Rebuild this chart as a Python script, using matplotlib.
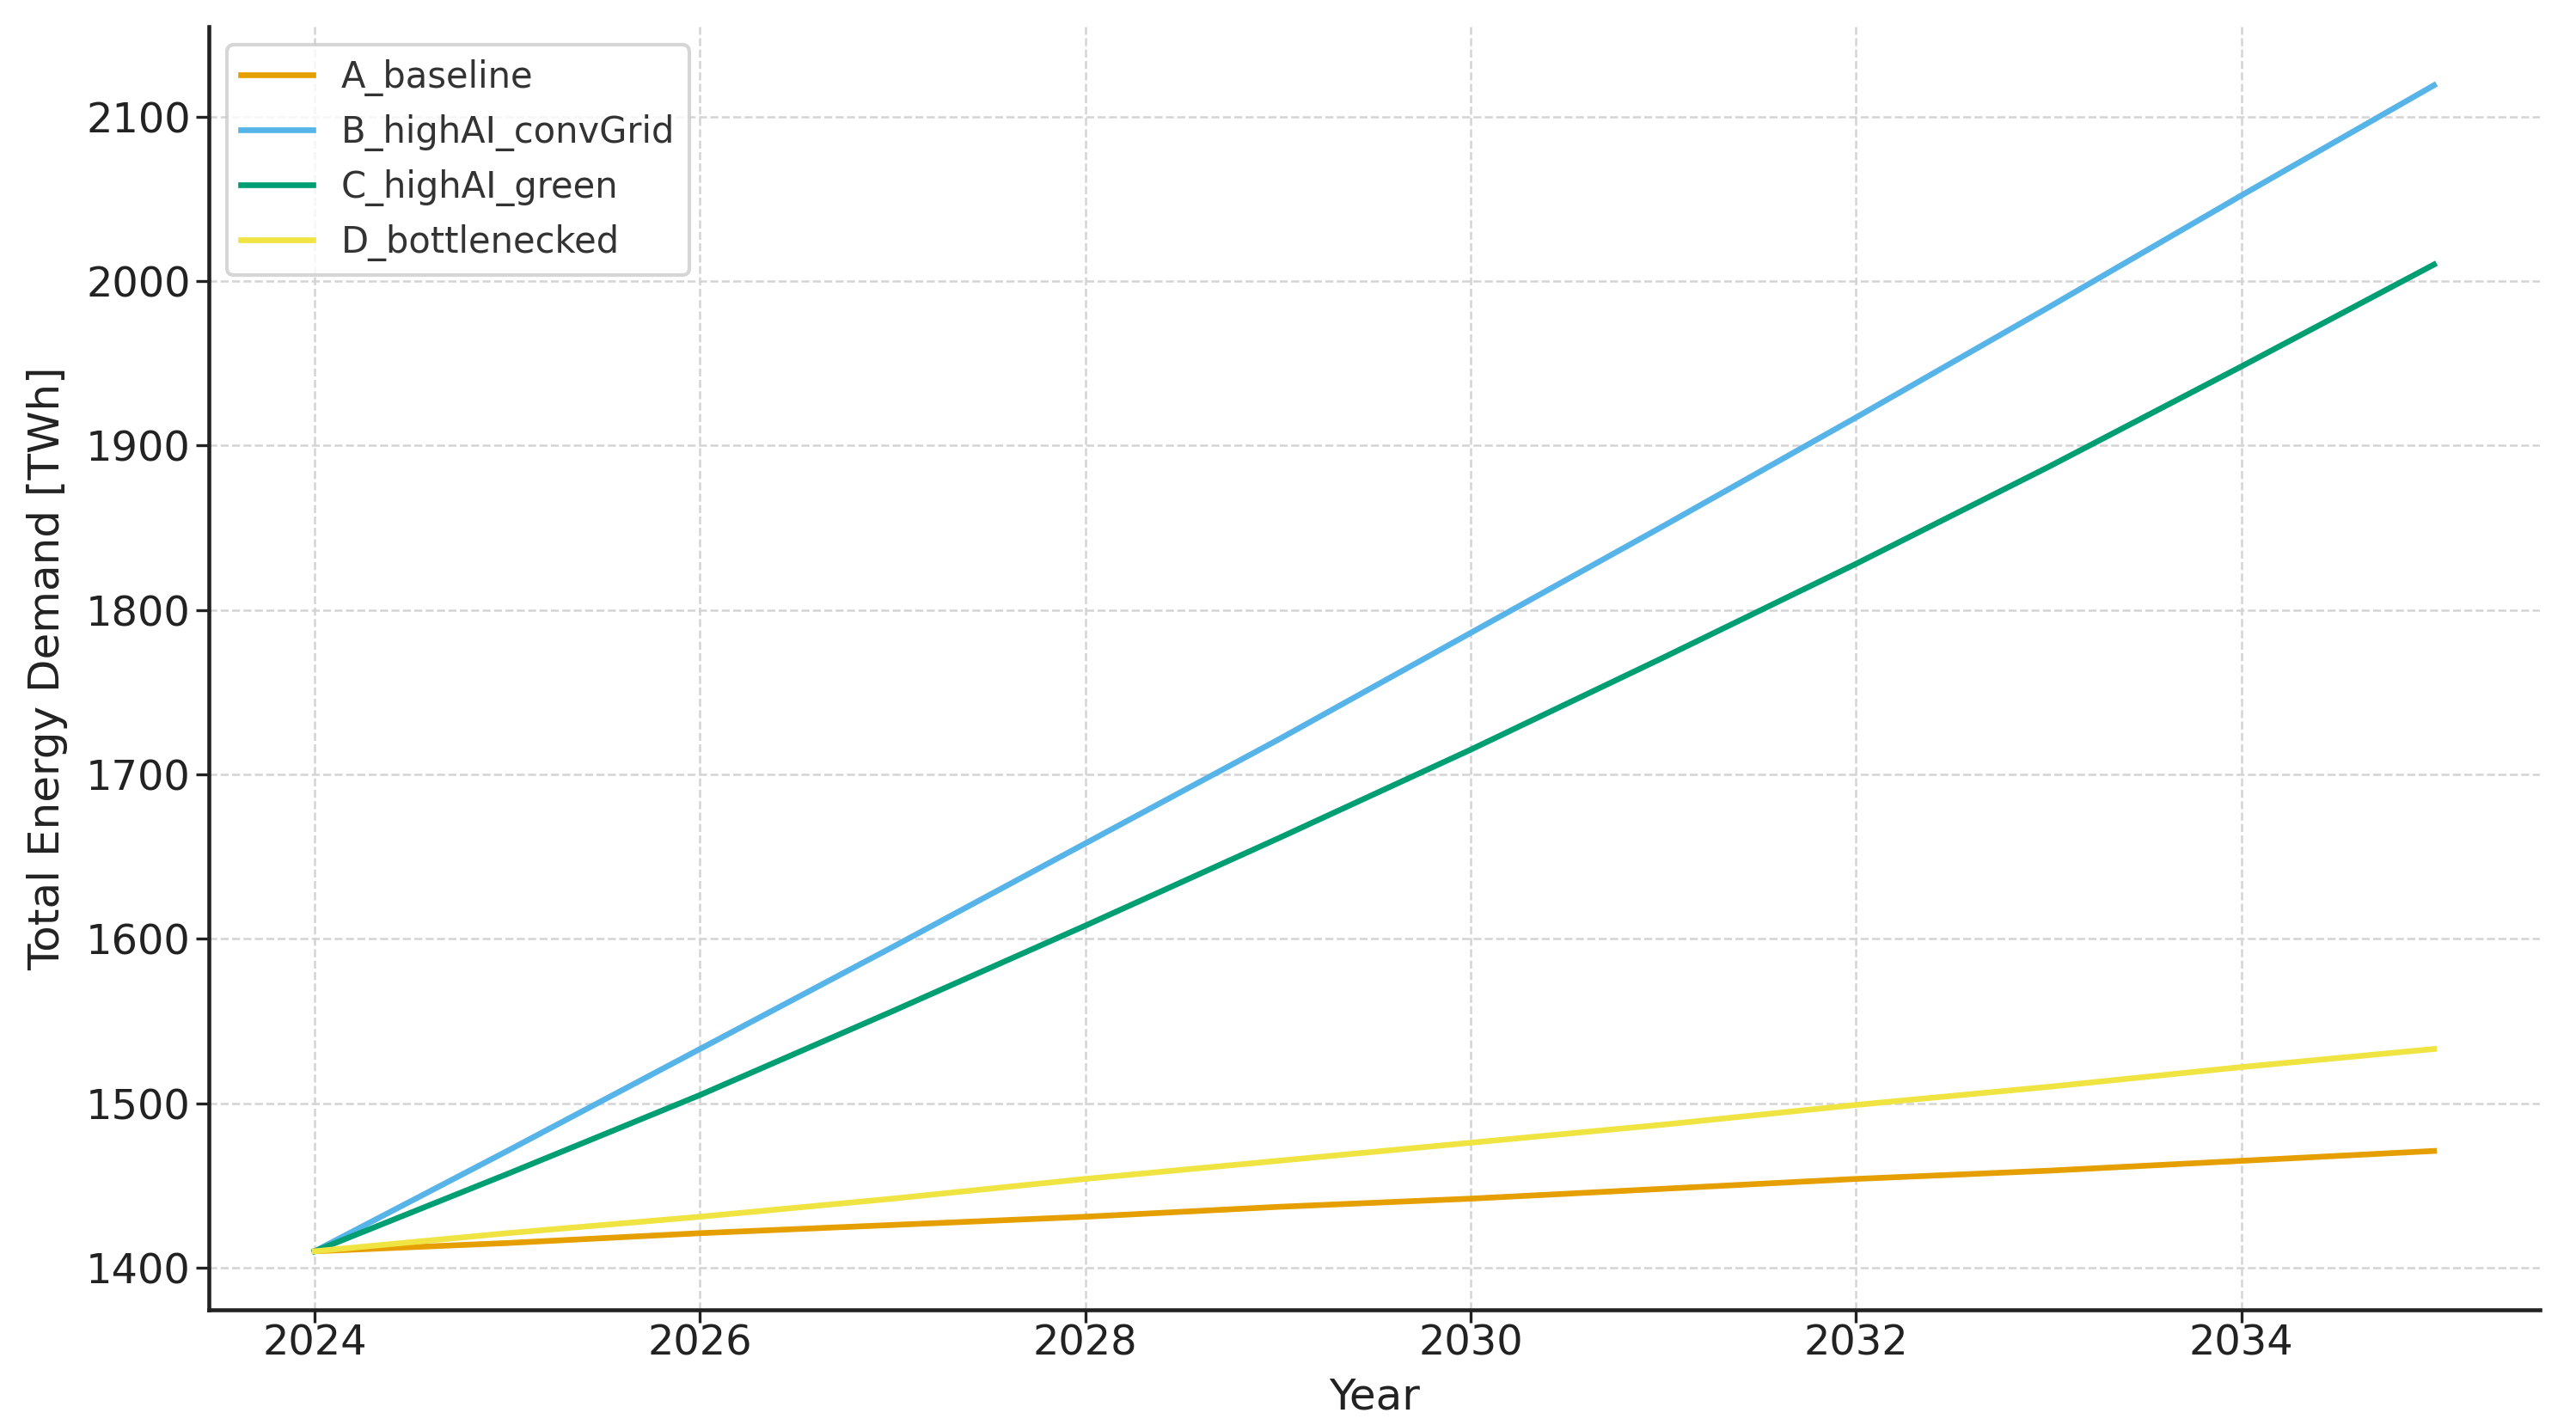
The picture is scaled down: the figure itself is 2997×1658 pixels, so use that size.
import matplotlib
matplotlib.use('Agg')
import matplotlib.pyplot as plt

# scenario data
years = [2024, 2025, 2026, 2027, 2028, 2029, 2030, 2031, 2032, 2033, 2034, 2035]
a_baseline = [1410, 1415, 1421, 1426, 1431, 1437, 1442, 1448, 1454, 1459, 1465, 1471]
b_highai_convgrid = [1410, 1471, 1533, 1595, 1658, 1721, 1786, 1851, 1917, 1984, 2052, 2119]
c_highai_green = [1410, 1457, 1505, 1556, 1608, 1661, 1715, 1771, 1828, 1887, 1948, 2010]
d_bottlenecked = [1410, 1421, 1431, 1442, 1454, 1465, 1476, 1487, 1499, 1510, 1522, 1533]

names = ['A_baseline', 'B_highAI_convGrid', 'C_highAI_green', 'D_bottlenecked']
colors = ['#E69F00', '#56B4E9', '#009E73', '#F0E442']

plt.rcParams['font.family'] = ['DejaVu Sans']

fig = plt.figure(figsize=(9.99, 5.527), dpi=300)
ax = fig.add_subplot(111)
fig.subplots_adjust(left=0.081, right=0.986, bottom=0.081, top=0.981)

for series, name, c in zip([a_baseline, b_highai_convgrid, c_highai_green, d_bottlenecked], names, colors):
    ax.plot(years, series, color=c, linewidth=1.6, label=name)

ax.set_xlabel('Year', fontsize=12, color='#222222', labelpad=3.5)
ax.set_ylabel('Total Energy Demand [TWh]', fontsize=12, color='#222222', labelpad=5)
ax.tick_params(labelsize=11.5, colors='#222222')
ax.tick_params(axis='x', pad=0.3)
ax.tick_params(axis='y', pad=1.5)
ax.set_xticks([2024, 2026, 2028, 2030, 2032, 2034])

ax.grid(True, linestyle='--', color='#d4d4d4', linewidth=0.6)
ax.spines['top'].set_visible(False)
ax.spines['right'].set_visible(False)
for s in ['left', 'bottom']:
    ax.spines[s].set_linewidth(1.1)
    ax.spines[s].set_color('#222222')

leg = ax.legend(loc='upper left', fontsize=10)
for t in leg.get_texts():
    t.set_color('#333333')

fig.savefig('out.png', dpi=300)
